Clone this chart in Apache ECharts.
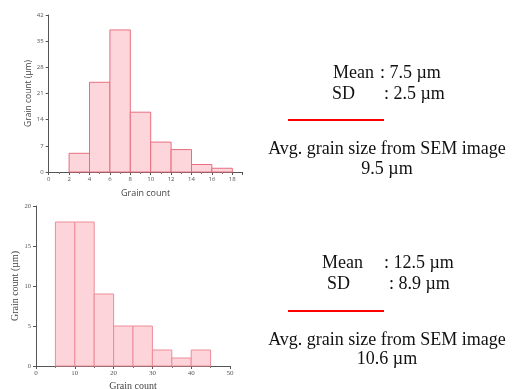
<!DOCTYPE html>
<html>
<head>
<meta charset="utf-8">
<script src="https://cdn.jsdelivr.net/npm/echarts@6/dist/echarts.min.js"></script>
<style>
  html, body { margin: 0; padding: 0; background: #fff; }
  #chart { width: 527px; height: 389px; }
</style>
</head>
<body>
<div id="chart"></div>
<script>
// Histogram 1: bin edges (µm) and counts
const binStartsA = [2, 4, 6, 8, 10, 12, 14, 16];
const binWidthA = 2;
const countsA = [5, 24, 38, 16, 8, 6, 2, 1];
const yTicksA = [0, 7, 14, 21, 28, 35, 42];

// Histogram 2: bin edges (µm) and counts
const binStartsB = [5, 10, 15, 20, 25, 30, 35, 40];
const binWidthB = 5;
const countsB = [18, 18, 9, 5, 5, 2, 1, 2];
const yTicksB = [0, 5, 10, 15, 20];

// Statistics text
const statsA = { mean: '7.5 µm', sd: '2.5 µm', sem: '9.5 µm' };
const statsB = { mean: '12.5 µm', sd: '8.9 µm', sem: '10.6 µm' };
const axisTitleX = 'Grain count';
const axisTitleY = 'Grain count (µm)';
const semLabel = 'Avg. grain size from SEM image';

const chart = echarts.init(document.getElementById('chart'), null, { renderer: 'canvas' });

function histData(starts, width, counts) {
  return starts.map((s, i) => [s, s + width, counts[i]]);
}

function binRender(fill, stroke) {
  return function (params, api) {
    const lo = api.coord([api.value(0), 0]);
    const hi = api.coord([api.value(1), api.value(2)]);
    return {
      type: 'rect',
      shape: { x: lo[0], y: hi[1], width: hi[0] - lo[0], height: lo[1] - hi[1] },
      style: { fill: fill, stroke: stroke, lineWidth: 1 }
    };
  };
}

const sans = '"Open Sans", "Noto Sans", sans-serif';
const serif = '"Liberation Serif", "DejaVu Serif", serif';

const serifText = (x, y, text, align) => ({
  type: 'text', x: x, y: y,
  style: { text: text, font: '18px ' + serif, fill: '#111', align: align || 'left', verticalAlign: 'middle' }
});

const option = {
  backgroundColor: '#fff',
  animation: false,
  grid: [
    { left: 48.7, top: 15, width: 193.8, height: 157, outerBoundsMode: 'none' },
    { left: 36, top: 206, width: 194, height: 160, outerBoundsMode: 'none' }
  ],
  xAxis: [
    {
      gridIndex: 0, type: 'value', min: 0, max: 19, interval: 2,
      name: axisTitleX, nameLocation: 'middle', nameGap: 17,
      nameTextStyle: { fontFamily: sans, fontSize: 9, color: '#444' },
      axisLine: { lineStyle: { color: '#555', width: 1 } },
      axisTick: { length: 3, lineStyle: { color: '#555' } },
      minorTick: { show: true, splitNumber: 2, length: 2, lineStyle: { color: '#777' } },
      axisLabel: { showMaxLabel: false, fontFamily: sans, fontSize: 6, color: '#555', margin: 4 },
      splitLine: { show: false }
    },
    {
      gridIndex: 1, type: 'value', min: 0, max: 50, interval: 10,
      name: axisTitleX, nameLocation: 'middle', nameGap: 15,
      nameTextStyle: { fontFamily: serif, fontSize: 10, color: '#444' },
      axisLine: { lineStyle: { color: '#555', width: 1 } },
      axisTick: { length: 3, lineStyle: { color: '#555' } },
      minorTick: { show: true, splitNumber: 2, length: 2, lineStyle: { color: '#777' } },
      axisLabel: { fontFamily: serif, fontSize: 7, color: '#555', margin: 4 },
      splitLine: { show: false }
    }
  ],
  yAxis: [
    {
      gridIndex: 0, type: 'value', min: yTicksA[0], max: yTicksA[yTicksA.length - 1], interval: 7,
      name: axisTitleY, nameLocation: 'middle', nameGap: 16,
      nameTextStyle: { fontFamily: sans, fontSize: 8.5, color: '#444' },
      axisLine: { show: true, lineStyle: { color: '#555', width: 1 } },
      axisTick: { show: true, length: 3, lineStyle: { color: '#555' } },
      axisLabel: { fontFamily: sans, fontSize: 6, color: '#555', margin: 5 },
      splitLine: { show: false }
    },
    {
      gridIndex: 1, type: 'value', min: yTicksB[0], max: yTicksB[yTicksB.length - 1], interval: 5,
      name: axisTitleY, nameLocation: 'middle', nameGap: 16,
      nameTextStyle: { fontFamily: serif, fontSize: 10, color: '#444' },
      axisLine: { show: true, lineStyle: { color: '#555', width: 1 } },
      axisTick: { show: true, length: 3, lineStyle: { color: '#555' } },
      axisLabel: { fontFamily: serif, fontSize: 6.5, color: '#555', margin: 5 },
      splitLine: { show: false }
    }
  ],
  series: [
    {
      type: 'custom', xAxisIndex: 0, yAxisIndex: 0,
      renderItem: binRender('#fcd6db', '#e86e7e'),
      encode: { x: [0, 1], y: 2 },
      data: histData(binStartsA, binWidthA, countsA)
    },
    {
      type: 'custom', xAxisIndex: 1, yAxisIndex: 1,
      renderItem: binRender('#fcd4da', '#ee8b99'),
      encode: { x: [0, 1], y: 2 },
      data: histData(binStartsB, binWidthB, countsB)
    }
  ],
  graphic: [
    // statistics for the upper histogram
    serifText(333, 73, 'Mean'),
    serifText(380, 73, ': ' + statsA.mean),
    serifText(332, 94, 'SD'),
    serifText(384, 94, ': ' + statsA.sd),
    { type: 'line', shape: { x1: 288, y1: 120, x2: 384, y2: 120 }, style: { stroke: '#ff0000', lineWidth: 2 } },
    serifText(387, 149, semLabel, 'center'),
    serifText(387, 169, statsA.sem, 'center'),
    // statistics for the lower histogram
    serifText(322, 263, 'Mean'),
    serifText(384, 263, ': ' + statsB.mean),
    serifText(327, 284, 'SD'),
    serifText(389, 284, ': ' + statsB.sd),
    { type: 'line', shape: { x1: 288, y1: 311, x2: 384, y2: 311 }, style: { stroke: '#ff0000', lineWidth: 2 } },
    serifText(387, 340, semLabel, 'center'),
    serifText(387, 359, statsB.sem, 'center')
  ]
};

chart.setOption(option);
</script>
</body>
</html>
